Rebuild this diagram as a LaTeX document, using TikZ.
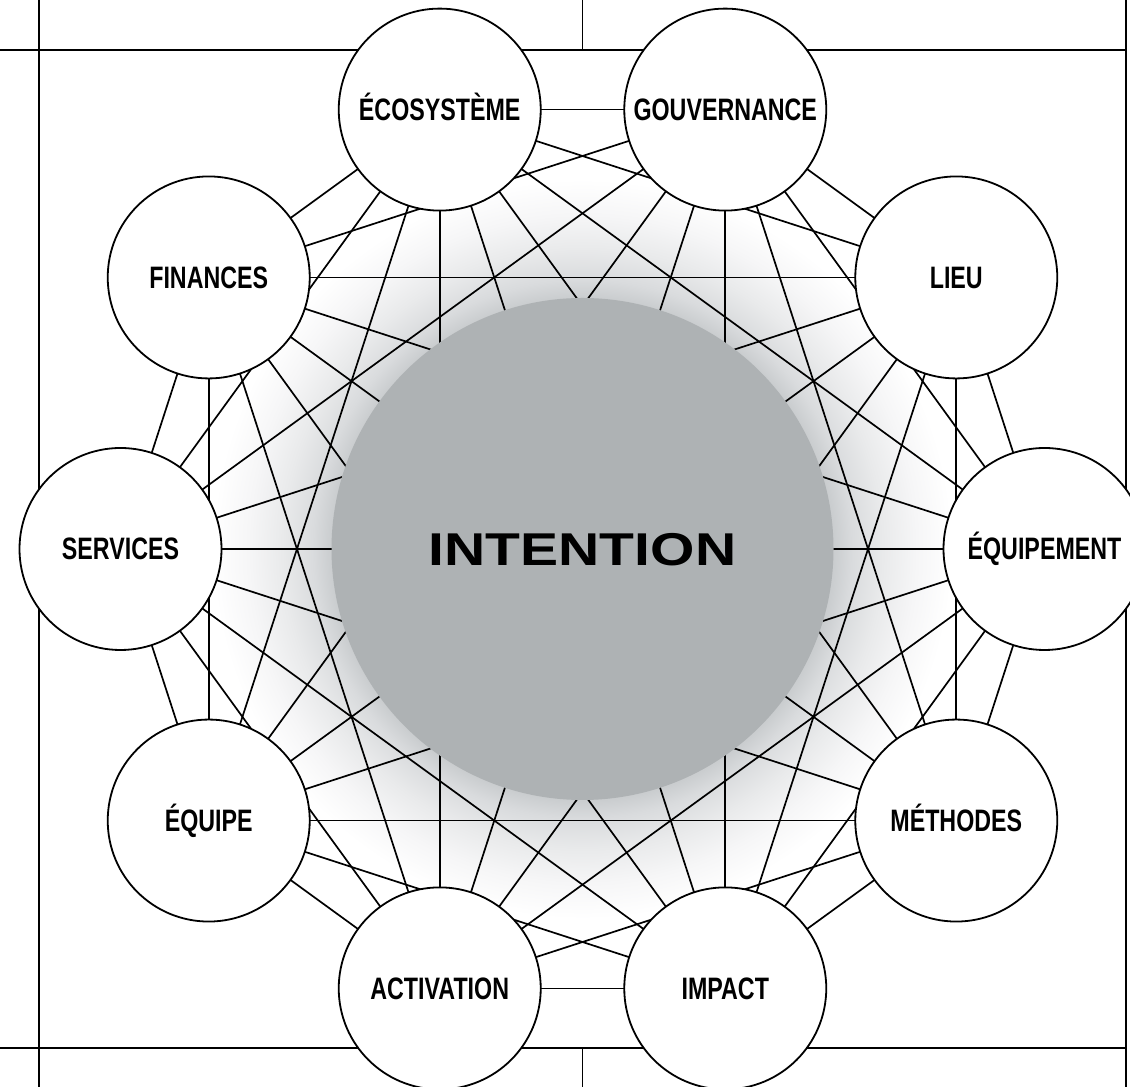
\documentclass[tikz,border=0pt]{standalone}
\usepackage{fontspec}
\usetikzlibrary{calc}
\newfontfamily\labfont[FakeStretch=0.75]{Liberation Sans Bold}
\newfontfamily\bigfont[FakeStretch=1.24]{Liberation Sans Bold}
\definecolor{diskgray}{HTML}{AEB2B4}
\definecolor{glowa}{HTML}{CACDCF}
\definecolor{glowb}{HTML}{D9DBDD}
\definecolor{glowc}{HTML}{E9EAEB}
\definecolor{glowd}{HTML}{F6F6F7}
\pgfdeclareradialshading{glowshade}{\pgfpoint{0bp}{0bp}}{color(0bp)=(glowa); color(17bp)=(glowa); color(18.2bp)=(glowb); color(20.3bp)=(glowc); color(22.6bp)=(glowd); color(25bp)=(white); color(50bp)=(white)}
\begin{document}
\begin{tikzpicture}[x=1pt,y=1pt,
  frameline/.style={line width=1.8pt, black},
  edgeline/.style={line width=1.7pt, black},
  topic/.style={circle, draw=black, line width=1.8pt, fill=white, minimum size=202pt, inner sep=0pt,
    font=\labfont\fontsize{31}{32}\selectfont, text height=22pt, text depth=0pt},
  core/.style={circle, fill=diskgray, minimum size=502pt, inner sep=0pt,
    font=\bigfont\fontsize{46}{48}\selectfont, text height=33pt, text depth=0pt}]
\useasboundingbox (0,0) rectangle (1130,1087);
% frame
\draw[frameline] (39,0) -- (39,1087);
\draw[frameline] (1126,0) -- (1126,1087);
\draw[frameline] (0,1037) -- (1126,1037);
\draw[frameline] (0,39) -- (1126,39);
\draw[frameline] (582.5,1037) -- (582.5,1087);
\draw[frameline] (582.5,0) -- (582.5,39);
% positions
\coordinate (c) at (582.5,538);
\foreach \n/\a in {0/0,1/36,2/72,3/108,4/144,5/180,6/216,7/252,8/288,9/324}
  \coordinate (p\n) at ($(c)+(\a:462)$);
% glow
\shade[shading=glowshade] (c) circle (370);
% complete graph
\foreach \i in {0,...,8}{
  \pgfmathtruncatemacro\s{\i+1}
  \foreach \j in {\s,...,9}{
    \draw[edgeline] (p\i) -- (p\j);
  }
}
% central disk
\node[core] (intention) at (c) {INTENTION};
% topic nodes
\node[topic] (n0) at (p0) {ÉQUIPEMENT};
\node[topic] (n1) at (p1) {LIEU};
\node[topic] (n2) at (p2) {GOUVERNANCE};
\node[topic] (n3) at (p3) {ÉCOSYSTÈME};
\node[topic] (n4) at (p4) {FINANCES};
\node[topic] (n5) at (p5) {SERVICES};
\node[topic] (n6) at (p6) {ÉQUIPE};
\node[topic] (n7) at (p7) {ACTIVATION};
\node[topic] (n8) at (p8) {IMPACT};
\node[topic] (n9) at (p9) {MÉTHODES};
\end{tikzpicture}
\end{document}
